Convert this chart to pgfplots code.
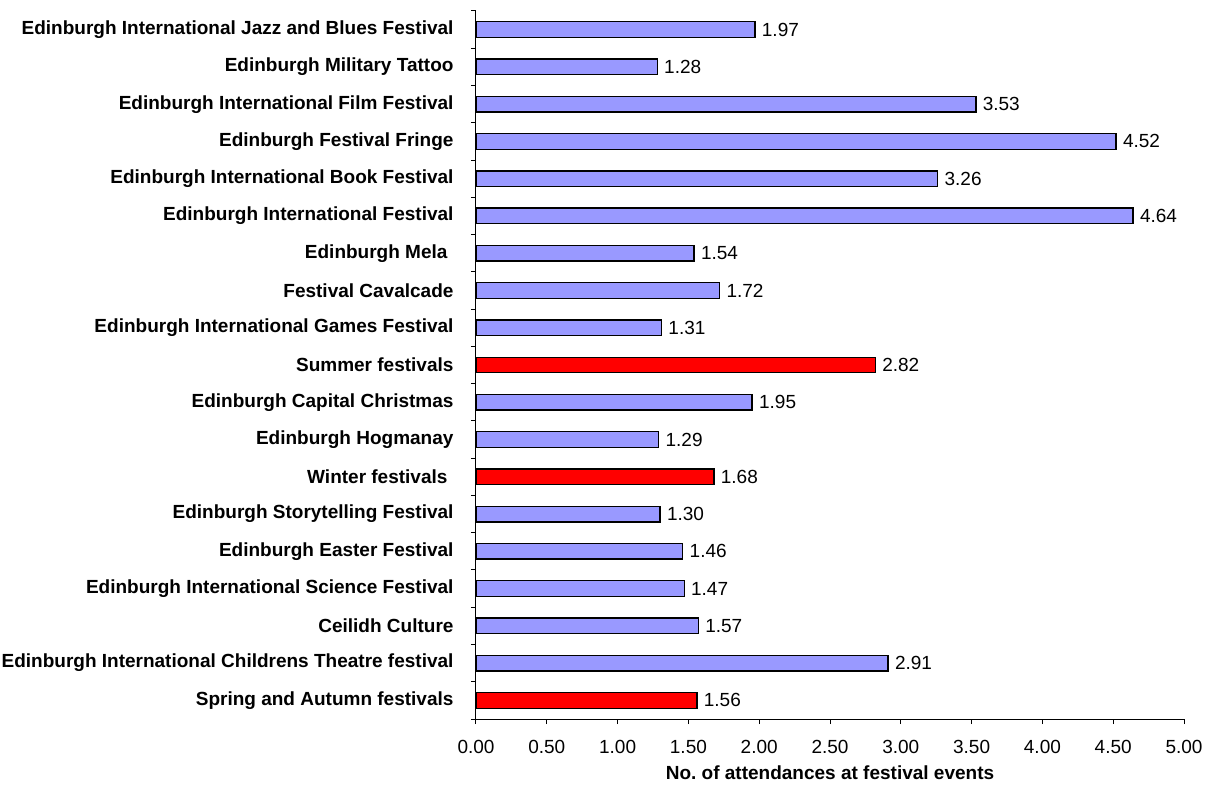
\documentclass[border=0pt]{standalone}
\usepackage{fontspec}
\setmainfont{Liberation Sans}
\usepackage{pgfplots}
\pgfplotsset{compat=1.18}
\definecolor{barblue}{HTML}{9999FF}
\definecolor{barred}{HTML}{FF0000}
\newcommand{\lab}{\fontsize{19}{22}\selectfont}
\begin{document}
\begin{tikzpicture}
\begin{axis}[
  scale only axis,
  width=708pt, height=708pt,
  xmin=0, xmax=5, ymin=-0.5, ymax=18.5,
  axis lines*=left,
  axis line style={line width=1pt},
  xbar, bar width=0.42, bar shift=0pt,
  xtick={0,0.5,...,5},
  xticklabel style={font=\lab, yshift=-13pt, /pgf/number format/fixed, /pgf/number format/fixed zerofill, /pgf/number format/precision=2},
  /pgf/number format/assume math mode=true,
  ytick={0,...,18},
  yticklabels={
    Spring and Autumn festivals,
    Edinburgh International Childrens Theatre festival,
    Ceilidh Culture,
    Edinburgh International Science Festival,
    Edinburgh Easter Festival,
    Edinburgh Storytelling Festival,
    Winter festivals\rule{6pt}{0pt},
    Edinburgh Hogmanay,
    Edinburgh Capital Christmas,
    Summer festivals,
    Edinburgh International Games Festival,
    Festival Cavalcade,
    Edinburgh Mela\rule{6pt}{0pt},
    Edinburgh International Festival,
    Edinburgh International Book Festival,
    Edinburgh Festival Fringe,
    Edinburgh International Film Festival,
    Edinburgh Military Tattoo,
    Edinburgh International Jazz and Blues Festival},
  yticklabel style={font=\lab\bfseries, xshift=-14pt},
  minor ytick={-0.5,0.5,...,18.5},
  major y tick style={draw=none},
  tick align=outside,
  major tick length=5pt, minor tick length=5pt,
  tick style={black, line width=1pt},
  xlabel={No.\ of attendances at festival events},
  xlabel style={font=\lab\bfseries, yshift=-5pt},
  nodes near coords={\pgfmathprintnumber[fixed,fixed zerofill,precision=2,assume math mode=true]{\pgfplotspointmeta}},
  nodes near coords align={anchor=west},
  every node near coord/.append style={font=\lab, black, xshift=3pt},
  clip=false,
]
\addplot[draw=black, line width=1.3pt, fill=barblue] coordinates {
  (2.91,1) (1.57,2) (1.47,3) (1.46,4) (1.30,5)
  (1.29,7) (1.95,8)
  (1.31,10) (1.72,11) (1.54,12) (4.64,13) (3.26,14) (4.52,15) (3.53,16) (1.28,17) (1.97,18)
};
\addplot[draw=black, line width=1.3pt, fill=barred] coordinates {
  (1.56,0) (1.68,6) (2.82,9)
};
\end{axis}
\pgfresetboundingbox
\path[use as bounding box] (current axis.south west) ++(-476pt,-68pt) rectangle ([xshift=26pt,yshift=11pt]current axis.north east);
\end{tikzpicture}
\end{document}
